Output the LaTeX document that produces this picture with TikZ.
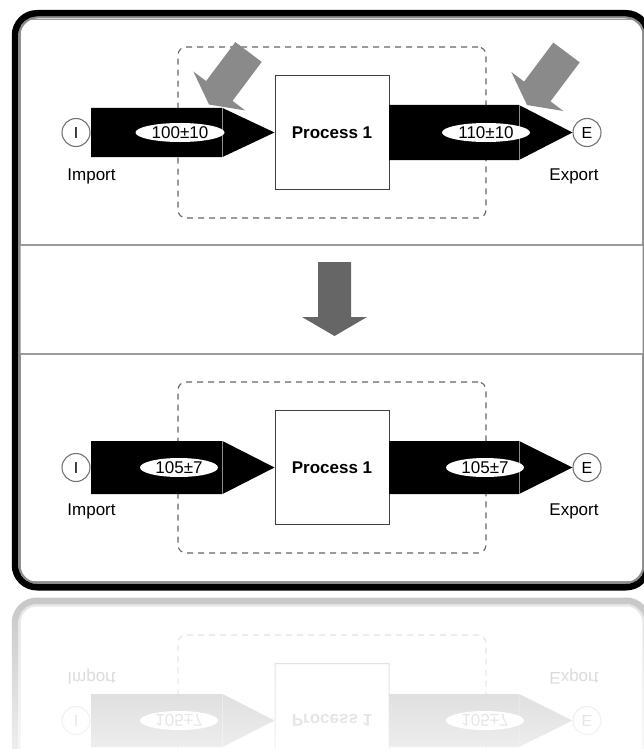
\documentclass[tikz,border=0pt]{standalone}
\usepackage{fontspec}
\setmainfont{Liberation Sans}
\usetikzlibrary{shapes.geometric,fadings}

\tikzfading[name=reflfade, top color=transparent!100, bottom color=transparent!30]

\definecolor{pointgray}{HTML}{8A8A8A}
\definecolor{stepgray}{HTML}{666666}
\definecolor{panelline}{HTML}{9C9C9C}

\tikzset{
  pics/fatarrow/.style n args={3}{code={
    \fill[#3] (0,-16.5) -- (#1,-16.5) -- (#1,-32.5) -- ({#1+#2},0)
      -- (#1,32.5) -- (#1,16.5) -- (0,16.5) -- cycle;
  }},
  lbl/.style={font=\fontsize{17}{20}\selectfont, inner sep=0pt},
  valuetag/.style={ellipse, fill=white, minimum height=19pt, inner sep=0pt,
    font=\fontsize{17}{20}\selectfont},
  endpoint/.style={circle, draw=black!55, line width=1.1pt, fill=white,
    minimum size=28pt, inner sep=0pt, font=\fontsize{16}{19}\selectfont},
  procbox/.style={draw=black!75, line width=1pt, fill=white,
    minimum width=114pt, minimum height=114pt, inner sep=0pt,
    font=\bfseries\fontsize{17}{20}\selectfont},
  boundary/.style={draw=black!60, line width=1.1pt, dash pattern=on 6pt off 5pt,
    rounded corners=8pt, minimum width=308pt, minimum height=171pt, inner sep=0pt},
  seam/.style={draw=black!45, line width=0.5pt},
  panel/.style={draw=panelline, line width=1.4pt},
}

% One balance row: #1 row centre, #2/#3 half widths of the in/out bands,
% #4/#5 flow values, #6/#7 tag widths, #8/#9 tag centres
\newcommand\flowpanel[9]{%
  \node[boundary] (B) at (332,#1) {};
  \node[procbox] (P) at (332,#1) {Process 1};
  \node[endpoint] (I) at (76,#1) {I};
  \node[endpoint] (E) at (587,#1) {E};
  \fill (91,{#1-#2}) -- (222.5,{#1-#2}) -- (P.west) -- (222.5,{#1+#2})
    -- (91,{#1+#2}) -- cycle;
  \fill (389,{#1-#3}) -- (519,{#1-#3}) -- (E.west) -- (519,{#1+#3})
    -- (389,{#1+#3}) -- cycle;
  \draw[seam] (222.5,{#1-#2}) -- (222.5,{#1+#2});
  \draw[seam] (519,{#1-#3}) -- (519,{#1+#3});
  \node[valuetag, minimum width=#6pt] (tagL) at (#8,#1) {#4};
  \node[valuetag, minimum width=#7pt] (tagR) at (#9,#1) {#5};
  \node[lbl] (impL) at (91.5,{#1+43.5}) {Import};
  \node[lbl] (expL) at (574,{#1+43.5}) {Export};
}

\newcommand\outerframe{%
  \draw[black!45, line width=2pt, rounded corners=18pt]
    (19.5,17.5) rectangle (643.5,583);
  \draw[black, line width=6.5pt, rounded corners=22pt]
    (15,13.25) rectangle (648,587.25);
}

\begin{document}
\begin{tikzpicture}[x=1pt, y=-1pt]
  \useasboundingbox (0,0) rectangle (644,749);
  \clip (0,0) rectangle (644,749);
  \fill[white] (0,0) rectangle (644,749);

  % panels
  \draw[panel] (20,19.5) rectangle (643,245);
  \draw[panel] (20,354) rectangle (643,582);

  % before
  \begin{scope}[name prefix=top-]
    \flowpanel{132.5}{24.5}{27.5}{100±10}{110±10}{89}{88}{180}{486}
  \end{scope}
  \pic[rotate=233.13] at (248.5,52) {fatarrow={48.7}{17}{pointgray}};
  \pic[rotate=233.13] at (566.5,52.5) {fatarrow={48.7}{17}{pointgray}};

  % step between the two states
  \pic[rotate=270] at (334.5,262) {fatarrow={55}{19}{stepgray}};

  % after
  \begin{scope}[name prefix=bot-]
    \flowpanel{467.5}{26.5}{26.5}{105±7}{105±7}{78}{78}{179}{485}
  \end{scope}

  \outerframe

  % mirrored copy below the frame
  \begin{scope}[yshift=-1188pt, yscale=-1, transform shape, name prefix=mir-,
      transparency group, opacity=0.22]
    \draw[panel] (20,354) rectangle (643,582);
    \flowpanel{467.5}{26.5}{26.5}{105±7}{105±7}{78}{78}{179}{485}
    \outerframe
  \end{scope}
  \fill[white, path fading=reflfade] (0,595) rectangle (644,749);
\end{tikzpicture}
\end{document}
